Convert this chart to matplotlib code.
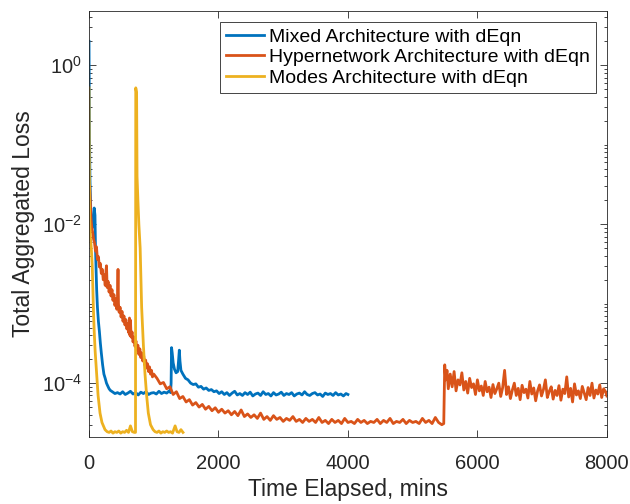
import matplotlib.pyplot as plt
import numpy as np
from matplotlib.ticker import FixedLocator, FuncFormatter, NullFormatter

plt.rcParams['font.family'] = 'Liberation Sans'
plt.rcParams['mathtext.fontset'] = 'custom'
plt.rcParams['mathtext.rm'] = 'Liberation Sans'
plt.rcParams['mathtext.it'] = 'Liberation Sans:italic'

# Training loss logs (minutes, aggregated loss)
mixed_t = [0, 3, 8, 15, 30, 50, 65, 80, 92, 100, 110, 118, 130, 145, 160, 175, 190, 210,
           230, 250, 270, 290, 310, 330, 360, 400,
           440, 480, 520, 560, 600, 640, 680, 720, 760, 800, 840, 880, 920, 960, 1000,
           1040, 1080, 1120, 1160, 1200, 1240,
           1260, 1268, 1275, 1285, 1300, 1320, 1345, 1370, 1385, 1395, 1405, 1420, 1450,
           1490, 1530, 1570, 1610, 1650, 1690, 1730, 1770, 1810, 1850, 1890, 1930, 1970,
           2010, 2050, 2090, 2130, 2170, 2210, 2250, 2290, 2330, 2370, 2410, 2450, 2490,
           2530, 2570, 2610, 2650, 2690, 2730, 2770, 2810, 2850, 2890, 2930, 2970, 3010,
           3050, 3090, 3130, 3170, 3210, 3250, 3290, 3330, 3370, 3410, 3450, 3490, 3530,
           3570, 3610, 3650, 3690, 3730, 3770, 3810, 3850, 3890, 3930, 3970, 4000]
mixed_loss = [2.0, 0.55, 0.12, 0.035, 0.012, 0.009, 0.011, 0.016, 0.013, 5e-3, 2.5e-3, 1.5e-3,
              9e-4, 6e-4, 4.5e-4, 3.2e-4, 2.4e-4, 1.7e-4, 1.3e-4, 1.15e-4, 1.0e-4, 9.2e-5,
              8.5e-5, 8.1e-5, 7.8e-5, 7.4e-5,
              7.6e-5, 7.3e-5, 7.8e-5, 7.2e-5, 7.5e-5, 7.9e-5, 7.3e-5, 7.6e-5, 7.1e-5, 7.7e-5,
              7.4e-5, 7.8e-5, 7.2e-5, 7.5e-5, 7.6e-5, 7.3e-5, 7.9e-5, 7.4e-5, 7.7e-5, 7.5e-5,
              8.0e-5,
              7.6e-5, 1.0e-4, 2.8e-4, 2.4e-4, 1.8e-4, 1.5e-4, 1.35e-4, 1.4e-4, 2.0e-4, 2.6e-4,
              1.9e-4, 1.45e-4, 1.3e-4, 1.15e-4, 1.1e-4, 1.0e-4, 9.6e-5, 9.8e-5, 8.9e-5,
              9.1e-5, 8.4e-5, 8.7e-5, 8.1e-5, 8.3e-5, 7.8e-5, 8.0e-5,
              7.4e-5, 7.8e-5, 7.2e-5, 7.6e-5, 7.0e-5, 7.5e-5, 7.9e-5, 7.1e-5, 7.4e-5, 7.0e-5,
              7.6e-5, 7.2e-5, 7.7e-5, 6.9e-5, 7.3e-5, 7.5e-5, 7.0e-5, 7.8e-5, 7.2e-5, 7.4e-5,
              6.9e-5, 7.6e-5, 7.1e-5, 7.3e-5, 7.7e-5, 7.0e-5, 7.4e-5, 7.2e-5, 7.6e-5, 6.9e-5,
              7.3e-5, 7.5e-5, 7.1e-5, 7.8e-5, 7.2e-5, 7.0e-5, 7.4e-5, 7.6e-5, 7.1e-5, 7.3e-5,
              6.8e-5, 7.5e-5, 7.2e-5, 7.4e-5, 7.0e-5, 7.6e-5, 7.1e-5, 7.3e-5, 6.9e-5, 7.4e-5,
              7.2e-5]

hyper_t = [10, 20, 30, 40, 55, 70, 85, 100, 115, 130, 145, 160, 175, 190, 205, 220, 235, 250,
           262, 270, 280, 295, 310, 325, 340, 355, 370, 385, 400, 415, 430, 440, 448, 455,
           465, 480, 495, 510, 525, 540, 555, 570, 585, 600, 615, 625, 632, 640, 650, 665,
           680, 695, 710, 725, 740, 755, 770, 785, 800, 815, 830, 845, 860, 875, 890, 905,
           920, 935, 950, 965, 980, 1000,
           1050, 1100, 1150, 1200, 1250, 1300, 1350, 1400, 1450, 1500, 1550, 1600, 1650,
           1700, 1750, 1800, 1850, 1900, 1950, 2000, 2050, 2100, 2150, 2200, 2250, 2300,
           2350, 2400, 2450, 2500, 2550, 2600, 2650, 2700, 2750, 2800, 2850, 2900, 2950,
           3000, 3050, 3100, 3150, 3200, 3250, 3300, 3350, 3400, 3450, 3500, 3550, 3600,
           3650, 3700, 3750, 3800, 3850, 3900, 3950, 4000, 4050, 4100, 4150, 4200, 4250,
           4300, 4350, 4400, 4450, 4500, 4550, 4600, 4650, 4700, 4750, 4800, 4850, 4900,
           4950, 5000, 5050, 5100, 5150, 5200, 5250, 5300, 5350, 5400, 5450, 5480,
           5495, 5510, 5530, 5550, 5580, 5610, 5640, 5670, 5700, 5730, 5760, 5790, 5820,
           5850, 5880, 5910, 5940, 5970, 6000, 6030, 6060, 6090, 6120, 6150, 6180, 6210,
           6240, 6270, 6300, 6330, 6360, 6390, 6420, 6450, 6480, 6510, 6540, 6570, 6600,
           6630, 6660, 6690, 6720, 6750, 6780, 6810, 6840, 6870, 6900, 6930, 6960, 6990,
           7020, 7050, 7080, 7110, 7140, 7170, 7200, 7230, 7260, 7290, 7320, 7350, 7380,
           7410, 7440, 7470, 7500, 7530, 7560, 7590, 7620, 7650, 7680, 7710, 7740, 7770,
           7800, 7830, 7860, 7890, 7920, 7950, 7980, 8000]
hyper_loss = [3.0e-2, 1.9e-2, 1.2e-2, 9.5e-3, 8.0e-3, 6.5e-3, 5.8e-3, 4.6e-3, 5.2e-3, 3.6e-3,
              3.9e-3, 2.9e-3, 3.2e-3, 2.4e-3, 2.7e-3, 2.0e-3, 2.3e-3, 1.7e-3, 2.6e-3, 3.0e-3,
              1.6e-3, 1.9e-3, 1.4e-3, 1.7e-3, 1.25e-3, 1.5e-3, 1.1e-3, 1.3e-3, 9.5e-4, 1.15e-3,
              8.5e-4, 1.2e-3, 2.7e-3, 1.0e-3, 7.8e-4, 9.0e-4, 6.8e-4, 8.0e-4, 6.0e-4, 7.0e-4,
              5.4e-4, 6.3e-4, 4.8e-4, 5.6e-4, 4.3e-4, 6.6e-4, 4.0e-4, 6.2e-4, 3.8e-4, 4.4e-4,
              3.3e-4, 3.8e-4, 2.9e-4, 3.4e-4, 2.6e-4, 3.0e-4, 2.3e-4, 2.7e-4, 2.1e-4, 2.4e-4,
              1.9e-4, 2.2e-4, 1.7e-4, 1.95e-4, 1.55e-4, 1.75e-4, 1.4e-4, 1.6e-4, 1.3e-4,
              1.45e-4, 1.2e-4, 1.3e-4,
              1.15e-4, 9.8e-5, 1.02e-4, 8.5e-5, 9.0e-5, 7.2e-5, 7.8e-5, 6.4e-5, 6.8e-5, 5.8e-5,
              6.2e-5, 5.3e-5, 5.7e-5, 5.0e-5, 5.4e-5, 4.7e-5, 5.1e-5, 4.5e-5, 4.9e-5, 4.3e-5,
              4.7e-5, 4.2e-5, 4.5e-5, 4.0e-5, 4.4e-5, 3.9e-5, 4.6e-5, 3.8e-5, 4.1e-5, 3.7e-5,
              4.0e-5, 3.6e-5, 4.2e-5, 3.5e-5, 3.8e-5, 3.4e-5, 3.9e-5, 3.5e-5, 3.7e-5, 3.3e-5,
              3.6e-5, 3.4e-5, 3.8e-5, 3.3e-5, 3.5e-5, 3.2e-5, 3.6e-5, 3.3e-5, 3.5e-5, 3.2e-5,
              3.7e-5, 3.2e-5, 3.4e-5, 3.1e-5, 3.5e-5, 3.2e-5, 3.4e-5, 3.1e-5, 3.6e-5, 3.2e-5,
              3.3e-5, 3.1e-5, 3.5e-5, 3.2e-5, 3.4e-5, 3.1e-5, 3.3e-5, 3.2e-5, 3.5e-5, 3.1e-5,
              3.4e-5, 3.2e-5, 3.6e-5, 3.1e-5, 3.3e-5, 3.2e-5, 3.5e-5, 3.1e-5, 3.4e-5, 3.2e-5,
              3.3e-5, 3.1e-5, 3.6e-5, 3.2e-5, 3.4e-5, 3.1e-5, 3.7e-5, 3.2e-5, 3.0e-5, 3.1e-5,
              1.7e-4, 1.1e-4, 1.45e-4, 8.5e-5, 1.3e-4, 9.0e-5, 1.4e-4, 8.0e-5, 1.1e-4, 9.5e-5,
              1.35e-4, 8.2e-5, 1.05e-4, 7.5e-5, 1.15e-4, 8.8e-5, 9.8e-5, 7.2e-5, 1.1e-4,
              8.0e-5, 9.2e-5, 7.0e-5, 1.05e-4, 7.8e-5, 8.9e-5, 6.6e-5, 9.6e-5, 7.4e-5, 8.5e-5,
              1.0e-4, 6.8e-5, 8.8e-5, 1.45e-4, 7.2e-5, 9.0e-5, 6.4e-5, 8.2e-5, 1.0e-4, 7.0e-5,
              8.6e-5, 6.2e-5, 9.4e-5, 7.6e-5, 8.4e-5, 6.5e-5, 1.05e-4, 7.3e-5, 8.7e-5, 6.0e-5,
              8.0e-5, 9.5e-5, 6.9e-5, 8.3e-5, 1.1e-4, 6.6e-5, 7.9e-5, 9.0e-5, 6.3e-5, 8.1e-5,
              7.0e-5, 9.3e-5, 6.1e-5, 8.4e-5, 7.4e-5, 1.2e-4, 6.7e-5, 8.6e-5, 5.8e-5, 9.8e-5,
              7.1e-5, 8.0e-5, 6.4e-5, 9.1e-5, 7.5e-5, 6.2e-5, 8.8e-5, 7.0e-5, 1.0e-4, 6.5e-5,
              8.2e-5, 7.3e-5, 9.5e-5, 6.6e-5, 8.5e-5, 7.8e-5, 6.9e-5]

modes_t = [0, 3, 6, 10, 20, 35, 50, 67, 80, 95, 118, 140, 170, 200, 247, 280,
           310, 340, 370, 400, 430, 460, 490, 520, 550, 580, 610, 640, 670, 700, 718,
           722, 735, 742, 755, 770, 790, 813, 840, 865, 890, 916, 950, 990,
           1020, 1050, 1080, 1110, 1140, 1170, 1200, 1230, 1260, 1290, 1330, 1360, 1390,
           1420, 1452]
modes_loss = [0.52, 0.1, 0.03, 0.012, 7e-3, 5e-3, 3e-3, 9e-4, 4.5e-4, 2.5e-4, 1.3e-4, 7e-5,
              4.2e-5, 3.2e-5, 2.6e-5, 2.45e-5,
              2.4e-5, 2.5e-5, 2.35e-5, 2.45e-5, 2.4e-5, 2.5e-5, 2.35e-5, 2.45e-5, 2.4e-5,
              2.55e-5, 2.4e-5, 2.9e-5, 2.45e-5, 2.4e-5, 2.4e-5,
              0.52, 0.45, 0.04, 0.02, 0.01, 5e-3, 9e-4, 3e-4, 1.3e-4, 7e-5, 4.2e-5, 3.0e-5,
              2.6e-5,
              2.45e-5, 2.4e-5, 2.5e-5, 2.35e-5, 2.45e-5, 2.4e-5, 2.5e-5, 2.4e-5, 2.45e-5,
              2.35e-5, 2.9e-5, 2.45e-5, 2.4e-5, 2.6e-5, 2.4e-5]

labels = ['Mixed Architecture with dEqn',
          'Hypernetwork Architecture with dEqn',
          'Modes Architecture with dEqn']
colors = ['#0072BD', '#D95319', '#EDB120']

fig = plt.figure(figsize=(6.3, 5.04), dpi=100)
ax = fig.add_axes([0.1413, 0.1329, 0.822, 0.845])

ax.plot(mixed_t, mixed_loss, color=colors[0], lw=2, label=labels[0])
ax.plot(hyper_t, hyper_loss, color=colors[1], lw=2, label=labels[1])
ax.plot(modes_t, modes_loss, color=colors[2], lw=2, label=labels[2])

ax.set_yscale('log')
ax.set_xlim(0, 8000)
ax.set_ylim(2.1e-5, 4.8)
ax.set_xticks([0, 2000, 4000, 6000, 8000])
ax.yaxis.set_major_locator(FixedLocator([1e-4, 1e-2, 1e0]))
ax.yaxis.set_major_formatter(FuncFormatter(lambda v, p: r'$\mathregular{10^{%d}}$' % round(np.log10(v))))
minor = [m * 10.0 ** k for k in range(-5, 1) for m in range(1, 10)]
minor = [v for v in minor if v not in (1e-4, 1e-2, 1.0)]
ax.yaxis.set_minor_locator(FixedLocator(minor))
ax.yaxis.set_minor_formatter(NullFormatter())

axis_gray = '#262626'
for s in ax.spines.values():
    s.set_color(axis_gray)
    s.set_linewidth(0.6)
ax.tick_params(which='both', direction='in', top=True, right=True,
               color=axis_gray, labelcolor=axis_gray, width=0.6)
ax.tick_params(which='major', length=5, labelsize=14.5)
ax.tick_params(axis='x', which='major', pad=12)
ax.tick_params(axis='y', which='major', pad=5)
ax.tick_params(which='minor', length=2.5)

ax.set_xlabel('Time Elapsed, mins', fontsize=16.5, color=axis_gray, labelpad=4)
ax.set_ylabel('Total Aggregated Loss', fontsize=16.5, color=axis_gray, labelpad=5)

leg = ax.legend(loc='upper right', bbox_to_anchor=(0.979, 0.974), borderaxespad=0,
                fontsize=14, frameon=True, fancybox=False, framealpha=1,
                edgecolor=axis_gray, handlelength=2.0, handletextpad=0.25,
                labelspacing=0.15, borderpad=0.3)
leg.get_frame().set_linewidth(0.6)

fig.savefig('out.png', dpi=100, facecolor='white')
